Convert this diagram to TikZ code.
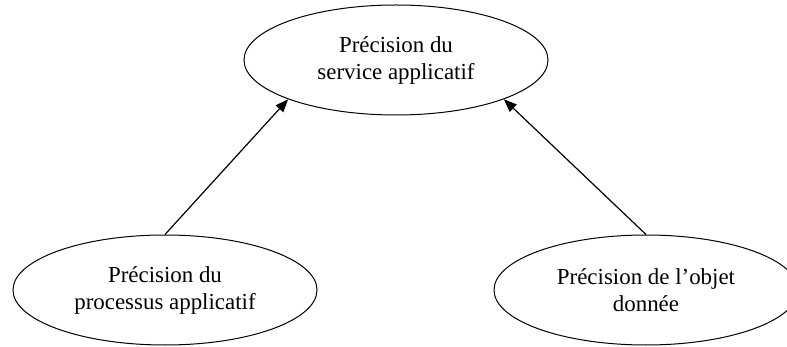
\documentclass[tikz,border=0pt]{standalone}
\usepackage{fontspec}
\setmainfont{Liberation Serif}
\usetikzlibrary{shapes.geometric,arrows.meta}
\tikzset{
  goal/.style={draw, ellipse, line width=1pt, minimum width=304pt, minimum height=110pt,
    inner sep=0pt, align=center, font=\fontsize{22.9}{27}\selectfont},
  link/.style={line width=1.2pt, -{Triangle[length=13pt,width=10pt]}}
}
\begin{document}
\begin{tikzpicture}[x=1pt,y=-1pt]
  \useasboundingbox (0,0) rectangle (787,347);
  \node[goal] (svc) at (396,60) {Précision du\\service applicatif};
  \node[goal] (proc) at (165,290) {Précision du\\processus applicatif};
  \node[goal] (obj) at (646,290) {Précision de l’objet\\donnée};
  \draw[link] (proc.north) -- (svc.200);
  \draw[link] (obj.north) -- (svc.340);
\end{tikzpicture}
\end{document}
